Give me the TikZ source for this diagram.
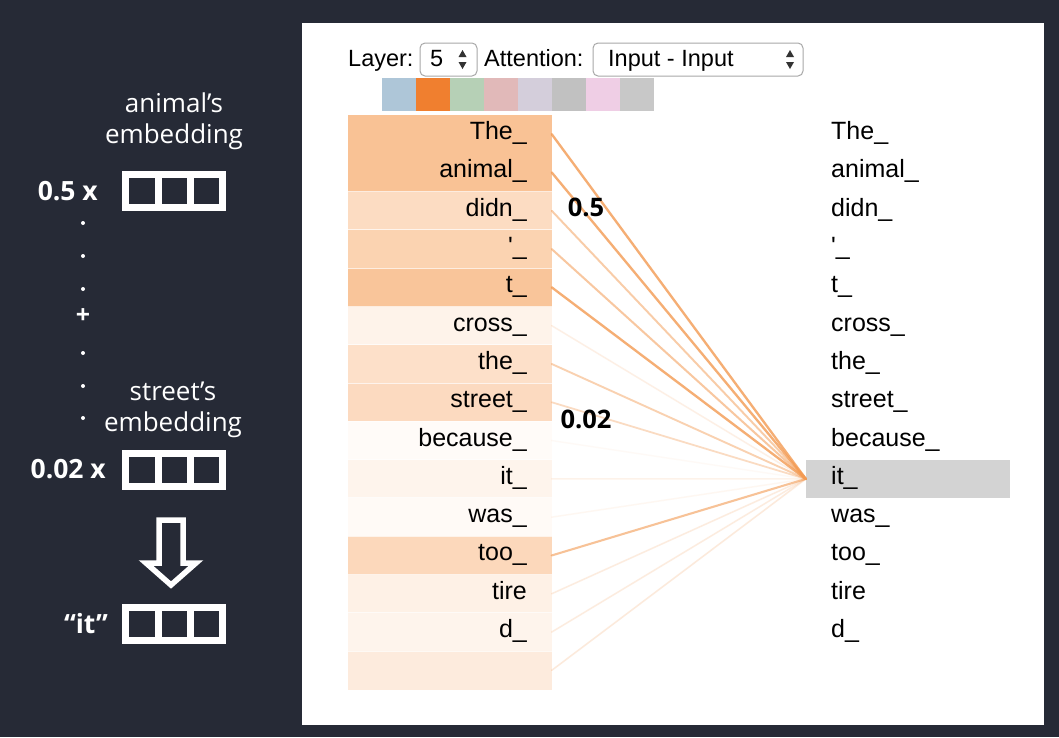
\documentclass[tikz,border=0pt]{standalone}
\usepackage{fontspec}
\setmainfont{Liberation Sans}
\newfontfamily\seg{Open Sans}
\definecolor{bgdark}{HTML}{262A36}
\definecolor{lineor}{HTML}{F39A52}
\definecolor{selgray}{HTML}{A8A8A8}
\definecolor{hlgray}{HTML}{D3D3D3}
\newcommand{\apos}{\XeTeXglyph\XeTeXglyphindex "quotesingle"\relax}
\tikzset{
  rowbox/.style={draw=none, minimum width=204pt, minimum height=38.3pt, inner sep=0pt},
  wordtxt/.style={inner sep=0pt, font=\fontsize{25}{28}\selectfont, text=black},
  ctrltxt/.style={inner sep=0pt, font=\fontsize{23.5}{28}\selectfont, text=black},
  selbox/.style={draw=selgray, line width=1pt, rounded corners=5pt, fill=white},
  swatch/.style={draw=none, minimum width=34pt, minimum height=33pt, inner sep=0pt},
  numlab/.style={inner sep=0pt, font=\seg\bfseries\fontsize{25.5}{28}\selectfont, text=black},
  wlab/.style={inner sep=0pt, font=\seg\fontsize{26}{31}\selectfont, text=white, align=center},
  wbold/.style={inner sep=0pt, font=\seg\bfseries\fontsize{26.5}{29}\selectfont, text=white},
  embcell/.style={draw=white, line width=7pt},
  wdot/.style={circle, fill=white, inner sep=0pt, minimum size=4pt},
  attline/.style={draw=lineor, line cap=round}
}
\begin{document}
\begin{tikzpicture}[x=1pt,y=-1pt]
\useasboundingbox (0,0) rectangle (1059,737);
\fill[bgdark] (0,0) rectangle (1059,737);
% white panel
\fill[white] (302,23) rectangle (1044,725);

% controls
\node[ctrltxt, anchor=base west] (layerlab) at (348,66) {Layer:};
\node[selbox, minimum width=57pt, minimum height=33pt] (layersel) at (448.5,59.5) {};
\node[ctrltxt, anchor=base west] (layerval) at (430,66) {5};
\fill[black!80] (458.5,57) -- (466.5,57) -- (462.5,50) -- cycle;
\fill[black!80] (458.5,62) -- (466.5,62) -- (462.5,69) -- cycle;
\node[ctrltxt, anchor=base west] (attlab) at (484,66) {Attention:};
\node[selbox, minimum width=210pt, minimum height=33pt] (attsel) at (698,59.5) {};
\node[ctrltxt, anchor=base west] (attval) at (608,66) {Input - Input};
\fill[black!80] (786,57) -- (794,57) -- (790,50) -- cycle;
\fill[black!80] (786,62) -- (794,62) -- (790,69) -- cycle;

% swatches
\foreach \k/\c in {0/AEC6D8,1/F07F2F,2/B6D0B6,3/E1B9B9,4/D4CEDB,5/C1C1C1,6/EFCEE5,7/C8C8C8}{
  \definecolor{swc}{HTML}{\c}
  \node[swatch, fill=swc] (sw\k) at ({399+34*\k},94.5) {};
}

% highlight box for target word
\node[rowbox, fill=hlgray] (H) at (908,478.9) {};

% rows
\foreach \i/\w/\c in {
  0/The\_/F9C295,
  1/animal\_/F9C295,
  2/didn\_/FCDCC2,
  3/\apos\_/FBD3B1,
  4/t\_/F9C59A,
  5/cross\_/FEF3EA,
  6/the\_/FDE0C9,
  7/street\_/FCDAC0,
  8/because\_/FFFBF8,
  9/it\_/FEF4EC,
  10/was\_/FFFAF6,
  11/too\_/FCD8BB,
  12/tire/FEF1E6,
  13/d\_/FEF4EC,
  14//FDEBDD}{
  \definecolor{rowc}{HTML}{\c}
  \pgfmathsetmacro{\yc}{115+38.3*\i+19.15}
  \node[rowbox, fill=rowc] (L\i) at (449.5,\yc) {};
  \node[wordtxt, anchor=base east] (LT\i) at (527,\yc+5.5) {\w};
  \node[wordtxt, anchor=base west] (RT\i) at (831,\yc+5.5) {\w};
}
% thin separators
\foreach \i in {2,3,4,5,6,7,8,9,10,11,12,13,14}{
  \draw[white, line width=0.8pt, opacity=0.7] (L\i.north west) -- (L\i.north east);
}
% attention lines
\foreach \i/\a in {0/0.8,1/0.8,2/0.5,3/0.55,4/0.8,5/0.15,6/0.45,7/0.35,8/0.05,9/0.12,10/0.08,11/0.6,12/0.18,13/0.18,14/0.2}{
  \pgfmathsetmacro{\lw}{1.3+1.3*\a}
  \draw[attline, draw opacity=\a, line width=\lw pt] (L\i.east) -- (H.west);
}
\node[numlab] (w05) at (586,207) {0.5};
\node[numlab] (w002) at (586,419) {0.02};

% left side
\node[wlab] (anemb) at (174,121) {animal’s\\embedding};
\node[wbold, anchor=east] (k05) at (98,191) {0.5 x};
\draw[embcell] (125.5,174.5) rectangle (222.5,207.5);
\draw[embcell] (158.5,174.5) -- (158.5,207.5);
\draw[embcell] (190.5,174.5) -- (190.5,207.5);

\node[wdot] (d1) at (83,223) {};
\node[wdot] (d2) at (83,256) {};
\node[wdot] (d3) at (83,289) {};
\node[inner sep=0pt, text=white, font=\seg\bfseries\fontsize{25}{27}\selectfont] (plus) at (83,316) {+};
\node[wdot] (d4) at (83,353) {};
\node[wdot] (d5) at (83,386) {};
\node[wdot] (d6) at (83,418) {};

\node[wlab] (stemb) at (173,410) {street’s\\embedding};
\node[wbold, anchor=east] (k002) at (106,469) {0.02 x};
\draw[embcell] (125.5,453.5) rectangle (222.5,486.5);
\draw[embcell] (158.5,453.5) -- (158.5,486.5);
\draw[embcell] (190.5,453.5) -- (190.5,486.5);

\draw[white, line width=5.5pt, miter limit=10] (159,520) -- (183,520) -- (183,563) -- (196,563) -- (171,585) -- (146,563) -- (159,563) -- cycle;

\node[wbold, anchor=east] (itq) at (108,624) {“it”};
\draw[embcell] (125.5,607.5) rectangle (222.5,640.5);
\draw[embcell] (158.5,607.5) -- (158.5,640.5);
\draw[embcell] (190.5,607.5) -- (190.5,640.5);
\end{tikzpicture}
\end{document}
